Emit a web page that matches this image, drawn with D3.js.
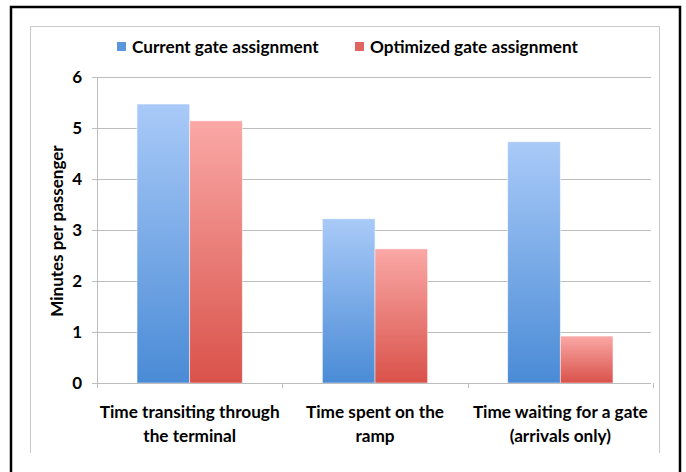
<!DOCTYPE html>
<html>
<head>
<meta charset="utf-8">
<script src="https://cdn.jsdelivr.net/npm/d3@7"></script>
<style>
  body { margin: 0; background: #fff; }
  text { font-family: Lato, "Open Sans", sans-serif; font-weight: bold; fill: #000; }
</style>
</head>
<body>
<svg id="chart" width="686" height="472"></svg>
<script>
const categories = [
    ["Time transiting through", "the terminal"],
    ["Time spent on the", "ramp"],
    ["Time waiting for a gate", "(arrivals only)"]
];
const seriesNames = ["Current gate assignment", "Optimized gate assignment"];
const currentValues = [5.47, 3.22, 4.73];
const optimizedValues = [5.14, 2.63, 0.92];
const yTicks = [0, 1, 2, 3, 4, 5, 6];

const svg = d3.select("#chart");

// outer black border (bottom edge is cut off in the picture)
svg.append("path")
    .attr("d", "M11,472 L11,7 L680,7 L680,472")
    .attr("fill", "none")
    .attr("stroke", "#000")
    .attr("stroke-width", 2.5);

// inner chart frame
svg.append("path")
    .attr("d", "M30.5,453 L30.5,26.5 L659.5,26.5 L659.5,453")
    .attr("fill", "none")
    .attr("stroke", "#c8c8c8")
    .attr("stroke-width", 1);

const margin = { left: 97, right: 653, top: 77, bottom: 383 };

const x = d3.scaleBand()
    .domain(d3.range(categories.length))
    .range([margin.left, margin.right])
    .paddingInner(0.432)
    .paddingOuter(0.216);

const x1 = d3.scaleBand()
    .domain([0, 1])
    .range([0, x.bandwidth()]);

const y = d3.scaleLinear()
    .domain([0, 6])
    .range([margin.bottom, margin.top]);

const defs = svg.append("defs");
function gradient(id, top, bottom) {
    const g = defs.append("linearGradient")
        .attr("id", id)
        .attr("x1", 0).attr("y1", 0).attr("x2", 0).attr("y2", 1);
    g.append("stop").attr("offset", "0%").attr("stop-color", top);
    g.append("stop").attr("offset", "100%").attr("stop-color", bottom);
}
gradient("blueGrad", "#a9caf8", "#4a8bd6");
gradient("redGrad", "#faa8a6", "#d9524a");
const fills = ["url(#blueGrad)", "url(#redGrad)"];
const legendFills = ["#5b97dc", "#de6560"];

// gridlines
svg.append("g")
    .selectAll("line")
    .data(yTicks)
    .enter().append("line")
    .attr("x1", margin.left - 5)
    .attr("x2", 651)
    .attr("y1", d => Math.round(y(d)) + 0.5)
    .attr("y2", d => Math.round(y(d)) + 0.5)
    .attr("stroke", "#bdbdbd")
    .attr("stroke-width", 1);

// y axis line
svg.append("line")
    .attr("x1", margin.left + 0.5).attr("x2", margin.left + 0.5)
    .attr("y1", margin.top).attr("y2", margin.bottom)
    .attr("stroke", "#bdbdbd");

// x axis ticks at category boundaries
const bounds = d3.range(categories.length + 1).map(i => margin.left + i * x.step());
svg.append("g")
    .selectAll("line")
    .data(bounds)
    .enter().append("line")
    .attr("x1", d => Math.round(d) + 0.5)
    .attr("x2", d => Math.round(d) + 0.5)
    .attr("y1", margin.bottom)
    .attr("y2", margin.bottom + 5)
    .attr("stroke", "#bdbdbd");

// bars
const data = categories.map((c, i) => [currentValues[i], optimizedValues[i]]);
const groups = svg.append("g")
    .selectAll("g")
    .data(data)
    .enter().append("g")
    .attr("transform", (d, i) => `translate(${x(i)},0)`);

groups.selectAll("rect")
    .data(d => d)
    .enter().append("rect")
    .attr("x", (d, j) => x1(j))
    .attr("y", d => y(d))
    .attr("width", x1.bandwidth())
    .attr("height", d => y(0) - y(d))
    .attr("fill", (d, j) => fills[j])
    .attr("stroke", "rgba(255,255,255,0.6)")
    .attr("stroke-width", 0.8);

// redraw baseline over bars
svg.append("line")
    .attr("x1", margin.left).attr("x2", 651)
    .attr("y1", margin.bottom + 0.5).attr("y2", margin.bottom + 0.5)
    .attr("stroke", "#bdbdbd");

// y tick labels
svg.append("g")
    .selectAll("text")
    .data(yTicks)
    .enter().append("text")
    .attr("x", 82)
    .attr("y", d => y(d))
    .attr("dy", "0.36em")
    .attr("text-anchor", "end")
    .style("font-size", "17px")
    .text(d => d);

// y axis title
svg.append("text")
    .attr("transform", "translate(63,231) rotate(-90)")
    .attr("text-anchor", "middle")
    .style("font-size", "17px")
    .text("Minutes per passenger");

// category labels
const catLabels = svg.append("g")
    .selectAll("text")
    .data(categories)
    .enter().append("text")
    .attr("x", (d, i) => x(i) + x.bandwidth() / 2)
    .attr("y", 418)
    .attr("text-anchor", "middle")
    .style("font-size", "17.2px");
catLabels.selectAll("tspan")
    .data(d => d)
    .enter().append("tspan")
    .attr("x", function () { return d3.select(this.parentNode).attr("x"); })
    .attr("dy", (d, i) => i === 0 ? 0 : 24)
    .text(d => d);

// legend
const legendX = [117, 355];
const legend = svg.append("g")
    .selectAll("g")
    .data(seriesNames)
    .enter().append("g")
    .attr("transform", (d, i) => `translate(${legendX[i]},47)`);
legend.append("rect")
    .attr("x", 0).attr("y", -5)
    .attr("width", 9).attr("height", 9)
    .attr("fill", (d, i) => legendFills[i]);
legend.append("text")
    .attr("x", 15)
    .attr("dy", "0.35em")
    .style("font-size", "17.2px")
    .text(d => d);
</script>
</body>
</html>
